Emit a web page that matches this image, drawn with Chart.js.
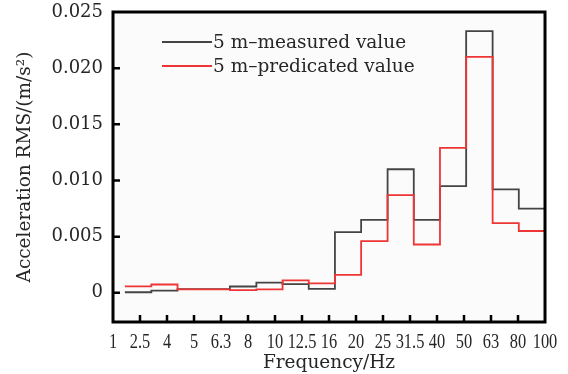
<!DOCTYPE html>
<html>
<head>
<meta charset="utf-8">
<title>Acceleration RMS</title>
<script src="https://cdn.jsdelivr.net/npm/chart.js@4.4.1/dist/chart.umd.min.js"></script>
<style>
  body { margin: 0; background: #fff; }
  canvas { display: block; }
</style>
</head>
<body>
<canvas id="myChart" width="568" height="374"></canvas>
<script>
'use strict';
// 1/3 octave band labels along the bottom axis
let freqLabels = ['1', '2.5', '4', '5', '6.3', '8', '10', '12.5', '16', '20', '25', '31.5', '40', '50', '63', '80', '100'];
// band edges on the label index scale, 16 bands
let bandEdges = [0.44, 1.42, 2.39, 3.36, 4.33, 5.31, 6.28, 7.25, 8.22, 9.19, 10.17, 11.14, 12.11, 13.08, 14.06, 15.03, 16];
let measured = [0.00005, 0.0002, 0.00033, 0.00033, 0.00056, 0.0009, 0.00077, 0.00035, 0.0054, 0.0065, 0.0110, 0.0065, 0.0095, 0.0233, 0.0092, 0.0075];
let predicted = [0.00057, 0.00074, 0.0003, 0.0003, 0.00023, 0.0003, 0.0011, 0.00083, 0.0016, 0.0046, 0.0087, 0.0043, 0.0129, 0.0210, 0.0062, 0.0055];
let yTicks = [0, 0.005, 0.010, 0.015, 0.020, 0.025];
let seriesNames = ['5 m\u2013measured value', '5 m\u2013predicated value'];
let seriesColors = ['#444444', '#ee3535'];

let serif = 'DejaVu Serif';
let textColor = '#262626';

// each band value held flat up to the next edge
function toSteps(values) {
    let pts = [];
    for (let i = 0; i < bandEdges.length; i++) {
        pts.push({ x: bandEdges[i], y: values[Math.min(i, values.length - 1)] });
    }
    return pts;
}

// plot frame, inward tick marks, narrow frequency labels and the legend
let framePlugin = {
    id: 'framePlugin',
    beforeDatasetsDraw(chart) {
        let a = chart.chartArea;
        let ctx = chart.ctx;
        ctx.save();
        ctx.fillStyle = '#fbfbfb';
        ctx.fillRect(a.left, a.top, a.right - a.left, a.bottom - a.top);
        ctx.restore();
    },
    afterDraw(chart) {
        let a = chart.chartArea;
        let ctx = chart.ctx;
        let xs = chart.scales.x;
        let ys = chart.scales.y;
        ctx.save();
        ctx.strokeStyle = '#000';
        ctx.lineWidth = 2.5;
        ctx.beginPath();
        for (let i = 1; i < freqLabels.length - 1; i++) {
            let px = xs.getPixelForValue(i);
            ctx.moveTo(px, a.bottom);
            ctx.lineTo(px, a.bottom - 7);
        }
        for (let i = 0; i < yTicks.length - 1; i++) {
            let py = ys.getPixelForValue(yTicks[i]);
            ctx.moveTo(a.left, py);
            ctx.lineTo(a.left + 7, py);
        }
        ctx.stroke();
        ctx.lineWidth = 3;
        ctx.strokeRect(a.left, a.top, a.right - a.left, a.bottom - a.top);

        // the frequency labels are set in a condensed face
        ctx.fillStyle = textColor;
        ctx.font = '20px "Liberation Serif"';
        ctx.textAlign = 'center';
        ctx.textBaseline = 'alphabetic';
        for (let i = 0; i < freqLabels.length; i++) {
            let px = xs.getPixelForValue(i);
            ctx.save();
            ctx.translate(px, a.bottom + 26);
            ctx.scale(0.82, 1);
            ctx.fillText(freqLabels[i], 0, 0);
            ctx.restore();
        }

        ctx.font = '18.5px "' + serif + '"';
        ctx.textBaseline = 'middle';
        ctx.textAlign = 'left';
        for (let i = 0; i < seriesNames.length; i++) {
            let y = a.top + 30 + i * 24;
            ctx.strokeStyle = seriesColors[i];
            ctx.lineWidth = 1.8;
            ctx.beginPath();
            ctx.moveTo(a.left + 49, y);
            ctx.lineTo(a.left + 99, y);
            ctx.stroke();
            ctx.fillText(seriesNames[i], a.left + 100, y + 1);
        }
        ctx.restore();
    }
};

let ctx = document.getElementById('myChart').getContext('2d');
let myChart = new Chart(ctx, {
    type: 'line',
    data: {
        datasets: [{
            label: seriesNames[0],
            data: toSteps(measured),
            borderColor: seriesColors[0],
            borderWidth: 1.8,
            stepped: true,
            pointRadius: 0,
            fill: false,
            order: 2
        }, {
            label: seriesNames[1],
            data: toSteps(predicted),
            borderColor: seriesColors[1],
            borderWidth: 1.8,
            stepped: true,
            pointRadius: 0,
            fill: false,
            order: 1
        }]
    },
    options: {
        responsive: false,
        animation: false,
        layout: { padding: { left: 0, top: 12, right: 23, bottom: 0 } },
        plugins: {
            legend: { display: false },
            tooltip: { enabled: false }
        },
        scales: {
            x: {
                type: 'linear',
                min: 0,
                max: freqLabels.length - 1,
                grid: { display: false, drawTicks: false },
                border: { display: false },
                afterBuildTicks: function (scale) {
                    scale.ticks = freqLabels.map(function (_, i) { return { value: i }; });
                },
                afterFit: function (scale) {
                    scale.height = 52;
                    scale.paddingLeft = 0;
                    scale.paddingRight = 0;
                },
                ticks: { display: false },
                title: {
                    display: true,
                    text: 'Frequency/Hz',
                    color: textColor,
                    font: { family: serif, size: 18.5 },
                    padding: { top: 0, bottom: 0 }
                }
            },
            y: {
                type: 'linear',
                min: -0.0026,
                max: 0.025,
                grid: { display: false, drawTicks: false },
                border: { display: false },
                afterBuildTicks: function (scale) {
                    scale.ticks = yTicks.map(function (v) { return { value: v }; });
                },
                afterFit: function (scale) {
                    scale.width = 113;
                    scale.paddingTop = 0;
                    scale.paddingBottom = 0;
                },
                ticks: {
                    padding: 10,
                    color: textColor,
                    font: { family: serif, size: 18 },
                    callback: function (value) { return value === 0 ? '0' : value.toFixed(3); }
                },
                title: {
                    display: true,
                    text: 'Acceleration RMS/(m/s\u00b2)',
                    color: textColor,
                    font: { family: serif, size: 18.5 },
                    padding: { top: 14, bottom: 0 }
                }
            }
        }
    },
    plugins: [framePlugin]
});
</script>
</body>
</html>
